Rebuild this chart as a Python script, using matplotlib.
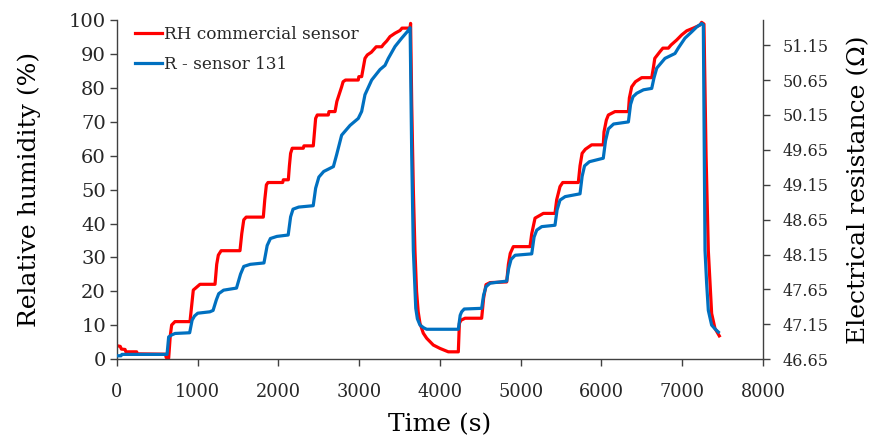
import numpy as np
from matplotlib import pyplot as plt

# RH from the commercial sensor (left axis, %)
rh_time = [0, 40, 55, 100, 110, 244, 250, 600, 610, 640, 660, 677, 718, 904,
           925, 945, 1028, 1214, 1235, 1255, 1290, 1523, 1545, 1570, 1600, 1812,
           1830, 1850, 1870, 2052, 2060, 2122, 2135, 2150, 2170, 2307, 2315, 2431,
           2445, 2460, 2480, 2617, 2625, 2700, 2723, 2782, 2800, 2830, 2988, 2995,
           3030, 3050, 3071, 3100, 3150, 3195, 3210, 3278, 3300, 3340, 3381, 3443,
           3505, 3530, 3628, 3636, 3650, 3670, 3690, 3710, 3730, 3752, 3793, 3835,
           3876, 3917, 4000, 4103, 4227, 4240, 4260, 4310, 4516, 4540, 4570, 4620,
           4826, 4847, 4870, 4908, 5115, 5136, 5177, 5220, 5280, 5424, 5445, 5486,
           5520, 5713, 5734, 5760, 5800, 5878, 6022, 6031, 6060, 6085, 6167, 6333,
           6345, 6374, 6420, 6498, 6622, 6643, 6660, 6725, 6760, 6828, 6860, 6931,
           6993, 7055, 7137, 7220, 7240, 7269, 7295, 7323, 7344, 7364, 7405, 7459]
rh_value = [4.0, 3.8, 3.0, 2.9, 2.2, 2.2, 1.6, 1.5, 0.5, 0.3, 7.0, 10.1, 11.1, 11.1,
            16.0, 20.4, 22.1, 22.1, 28.0, 30.7, 32.0, 32.0, 37.0, 41.1, 41.9, 41.9,
            47.0, 51.4, 52.1, 52.1, 52.9, 52.9, 57.0, 60.7, 62.2, 62.2, 62.9, 62.9,
            67.0, 71.0, 72.0, 72.0, 73.0, 73.0, 76.0, 80.3, 81.8, 82.3, 82.3, 83.3,
            83.3, 86.0, 88.7, 89.7, 90.5, 91.7, 92.1, 92.1, 92.8, 93.8, 95.1, 96.1,
            96.9, 97.6, 97.6, 99.0, 75.0, 50.0, 32.0, 20.0, 14.0, 10.6, 7.7, 6.2,
            5.2, 4.2, 3.2, 2.2, 2.2, 10.6, 11.5, 12.1, 12.1, 18.0, 22.0, 22.6,
            22.8, 28.0, 31.2, 33.2, 33.2, 37.0, 41.6, 42.2, 43.0, 43.0, 47.0, 50.9,
            52.1, 52.1, 57.0, 60.7, 61.9, 63.2, 63.2, 67.0, 70.5, 72.0, 73.0, 73.0,
            77.0, 80.3, 81.8, 83.0, 83.0, 86.0, 88.7, 90.7, 91.7, 91.7, 92.6, 94.1,
            95.6, 96.8, 97.6, 98.5, 99.3, 98.8, 60.0, 32.0, 22.4, 13.5, 9.1, 6.9]

# resistance of sensor 131 (right axis, ohm)
r_time = [0, 50, 60, 600, 620, 640, 680, 720, 900, 930, 960, 1000, 1150, 1190,
          1230, 1260, 1320, 1480, 1530, 1570, 1650, 1820, 1860, 1900, 1980, 2120,
          2150, 2180, 2250, 2430, 2460, 2500, 2560, 2680, 2720, 2782, 2886, 2988,
          3030, 3071, 3154, 3257, 3319, 3360, 3443, 3526, 3608, 3630, 3650, 3670,
          3700, 3720, 3752, 3800, 3835, 4227, 4250, 4268, 4300, 4516, 4540, 4570,
          4620, 4826, 4850, 4880, 4930, 5136, 5165, 5198, 5260, 5424, 5450, 5486,
          5550, 5734, 5760, 5790, 5850, 6022, 6050, 6085, 6150, 6333, 6360, 6390,
          6436, 6520, 6622, 6650, 6684, 6786, 6910, 6952, 7034, 7117, 7179, 7241,
          7261, 7282, 7302, 7323, 7364, 7410, 7447]
r_value = [46.70, 46.70, 46.72, 46.72, 46.72, 46.97, 47.00, 47.02, 47.03, 47.21,
           47.27, 47.31, 47.33, 47.35, 47.50, 47.59, 47.64, 47.67, 47.87, 47.98,
           48.01, 48.03, 48.28, 48.38, 48.41, 48.43, 48.69, 48.80, 48.83, 48.85,
           49.10, 49.26, 49.34, 49.41, 49.58, 49.86, 50.00, 50.10, 50.20, 50.44,
           50.65, 50.80, 50.86, 50.96, 51.13, 51.25, 51.36, 51.40, 49.57, 48.21,
           47.38, 47.23, 47.14, 47.10, 47.08, 47.08, 47.28, 47.33, 47.37, 47.38,
           47.57, 47.69, 47.74, 47.77, 47.95, 48.08, 48.14, 48.16, 48.40, 48.50,
           48.55, 48.57, 48.79, 48.93, 48.98, 49.02, 49.27, 49.42, 49.48, 49.53,
           49.78, 49.95, 50.02, 50.05, 50.30, 50.41, 50.46, 50.51, 50.53, 50.68,
           50.82, 50.96, 51.03, 51.11, 51.25, 51.34, 51.41, 51.46, 51.44, 48.21,
           47.74, 47.35, 47.14, 47.08, 47.04]

left_ticks = np.arange(0, 101, 10)
right_ticks = [46.65, 47.15, 47.65, 48.15, 48.65, 49.15, 49.65, 50.15, 50.65, 51.15]
time_ticks = np.arange(0, 8001, 1000)

plt.rcParams["font.family"] = "DejaVu Serif"
plt.rcParams["text.color"] = "#262626"
plt.rcParams["xtick.color"] = "#404040"
plt.rcParams["ytick.color"] = "#404040"
plt.rcParams["xtick.labelcolor"] = "#262626"
plt.rcParams["ytick.labelcolor"] = "#262626"

fig = plt.figure(figsize=(8.75, 4.44), dpi=100)
ax = fig.add_axes([0.1337, 0.1908, 0.7383, 0.7642])
ax2 = ax.twinx()

(line_rh,) = ax.plot(rh_time, rh_value, color="#FF0000", lw=2.3,
                     label="RH commercial sensor")
(line_r,) = ax2.plot(r_time, r_value, color="#0070C0", lw=2.3,
                     label="R - sensor 131")

ax.set_xlim(0, 8000)
ax.set_ylim(0, 100)
ax2.set_ylim(46.65, 51.51)
ax.set_xticks(time_ticks)
ax.set_yticks(left_ticks)
ax2.set_yticks(right_ticks)
ax2.set_yticklabels([f"{v:.2f}" for v in right_ticks])

for a in (ax, ax2):
    a.spines["top"].set_visible(False)
    for s in a.spines.values():
        s.set_color("#404040")
        s.set_linewidth(1.0)
ax.spines["right"].set_visible(False)
ax2.spines["left"].set_visible(False)
ax2.spines["bottom"].set_visible(False)

ax.tick_params(axis="x", length=5, width=1, labelsize=12.8, pad=12)
ax.tick_params(axis="y", length=5, width=1, labelsize=14, pad=3)
ax2.tick_params(axis="y", length=5, width=1, labelsize=11.5, pad=9)

ax.set_xlabel("Time (s)", fontsize=18)
ax.set_ylabel("Relative humidity (%)", fontsize=18)
ax2.set_ylabel("Electrical resistance (\u03a9)", fontsize=18)
ax.xaxis.set_label_coords(0.5, -0.16)
ax.yaxis.set_label_coords(-0.117, 0.5)
ax2.yaxis.set_label_coords(1.13, 0.5)

ax2.legend(handles=[line_rh, line_r], loc="upper left",
           bbox_to_anchor=(0.028, 0.983), frameon=False, fontsize=12.2,
           handlelength=1.6, handletextpad=0.1, borderpad=0,
           borderaxespad=0, labelspacing=0.78)

fig.savefig("out.png", dpi=100)
